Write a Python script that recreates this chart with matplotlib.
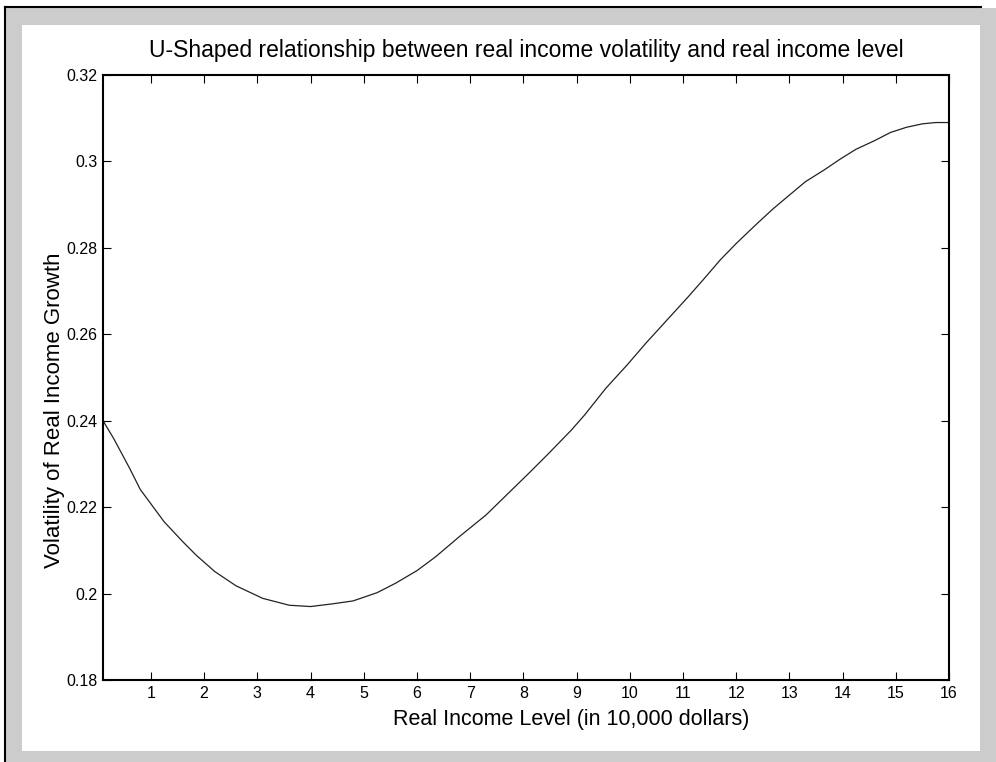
import matplotlib
matplotlib.use("Agg")
import matplotlib.pyplot as plt
from matplotlib.patches import Rectangle
from matplotlib.lines import Line2D

plt.rcParams['font.family'] = ['Liberation Sans', 'DejaVu Sans']

# Volatility of real income growth against real income level (in 10,000 dollars)
income_level = [0.1, 0.3, 0.6, 0.8, 1.25, 1.6, 1.85, 2.2, 2.6, 3.1, 3.6, 4.0,
                4.4, 4.8, 5.25, 5.6, 6.0, 6.35, 6.8, 7.3, 7.75, 8.1, 8.45, 8.9,
                9.15, 9.55, 9.95, 10.3, 10.7, 11.1, 11.4, 11.7, 12.0, 12.4, 12.7,
                13.0, 13.3, 13.65, 13.95, 14.25, 14.6, 14.9, 15.2, 15.5, 15.75, 16.0]
volatility = [0.2400, 0.2359, 0.2290, 0.2241, 0.2166, 0.2120, 0.2089, 0.2051,
              0.2018, 0.1989, 0.1973, 0.1970, 0.1976, 0.1983, 0.2002, 0.2024,
              0.2053, 0.2085, 0.2132, 0.2182, 0.2236, 0.2278, 0.2321, 0.2378,
              0.2413, 0.2475, 0.2529, 0.2579, 0.2633, 0.2687, 0.2729, 0.2772,
              0.2810, 0.2857, 0.2891, 0.2922, 0.2953, 0.2980, 0.3005, 0.3028,
              0.3048, 0.3067, 0.3079, 0.3087, 0.3090, 0.3090]

x_ticks = list(range(1, 17))
y_ticks = [0.18, 0.20, 0.22, 0.24, 0.26, 0.28, 0.30, 0.32]
y_tick_labels = ['0.18', '0.2', '0.22', '0.24', '0.26', '0.28', '0.3', '0.32']

W, H = 996, 762
fig = plt.figure(figsize=(W / 100, H / 100), dpi=100)
fig.patch.set_facecolor('white')


def px_rect(x0, y0, x1, y1, color):
    # rectangle given in pixel coords, origin top-left
    fig.add_artist(Rectangle((x0 / W, 1 - y1 / H), (x1 - x0) / W, (y1 - y0) / H,
                             transform=fig.transFigure, facecolor=color,
                             edgecolor='none', zorder=-10))


# grey frame with white panel and dark top/left edge
px_rect(6, 8, W, H, '#cccccc')
px_rect(22, 25, 980, 751, 'white')
fig.add_artist(Line2D([5 / W, 981 / W], [1 - 7 / H, 1 - 7 / H],
                      transform=fig.transFigure, color='black', lw=1.5))
fig.add_artist(Line2D([5 / W, 5 / W], [1 - 7 / H, 0],
                      transform=fig.transFigure, color='black', lw=1.5))

ax = fig.add_axes([103 / W, 1 - 680 / H, (949 - 103) / W, (680 - 75) / H])
ax.plot(income_level, volatility, color='#222222', lw=0.9)

ax.set_xlim(0.1, 16)
ax.set_ylim(0.18, 0.32)
ax.set_xticks(x_ticks)
ax.set_xticklabels([str(t) for t in x_ticks])
ax.set_yticks(y_ticks)
ax.set_yticklabels(y_tick_labels)
ax.tick_params(direction='in', length=6, width=0.8, labelsize=11.5,
               top=True, right=True, pad=4)

for s in ax.spines.values():
    s.set_linewidth(1.5)

ax.set_title('U-Shaped relationship between real income volatility and real income level',
             fontsize=16.5, pad=13)
ax.set_xlabel('Real Income Level (in 10,000 dollars)', fontsize=15.5)
ax.xaxis.set_label_coords(0.553, -0.048)
ax.set_ylabel('Volatility of Real Income Growth', fontsize=16)
ax.yaxis.set_label_coords(-0.045, 0.446)

fig.savefig('out.png', dpi=100)
